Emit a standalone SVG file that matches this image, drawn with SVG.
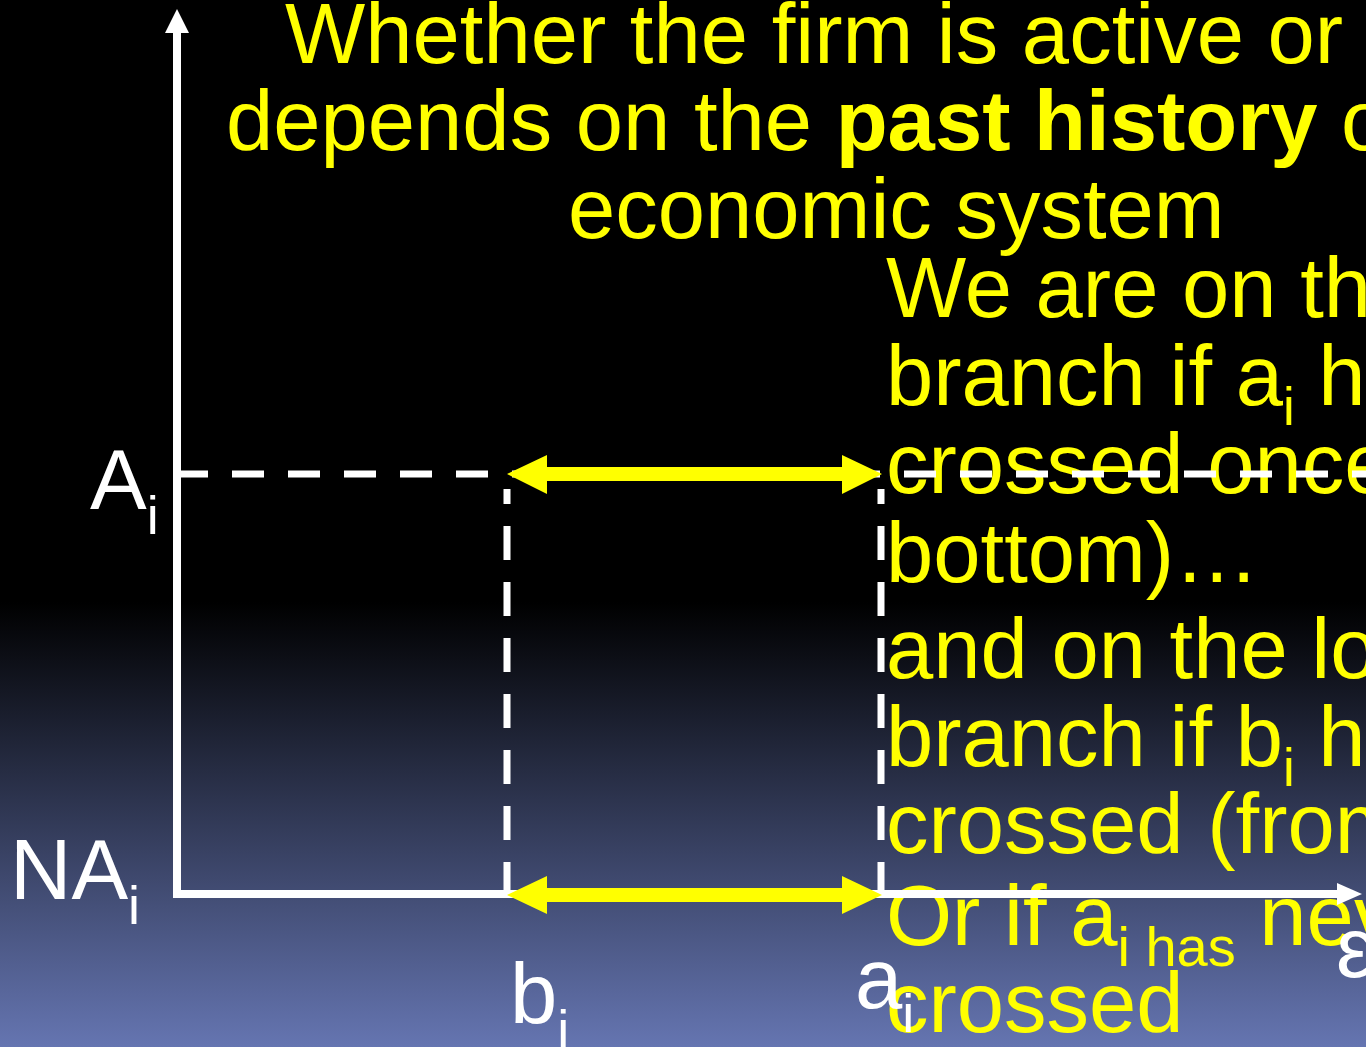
<svg xmlns="http://www.w3.org/2000/svg" width="1366" height="1047" viewBox="0 0 1366 1047">
<defs>
<linearGradient id="bg" x1="0" y1="0" x2="0" y2="1047" gradientUnits="userSpaceOnUse">
<stop offset="0" stop-color="#000"/>
<stop offset="0.575" stop-color="#000"/>
<stop offset="1" stop-color="#6575b1"/>
</linearGradient>
<style>
.t{font-family:"Liberation Sans",Arial,sans-serif;font-size:85px;fill:#ffff00}
.w{font-family:"Liberation Sans",Arial,sans-serif;font-size:85px;fill:#fff}
.axis{stroke:#fff;stroke-width:8;fill:none}
.dash{stroke:#fff;stroke-width:7;fill:none;stroke-dasharray:32 24}
.ya{fill:#ffff00}
.ah{fill:#fff}
</style>
</defs>
<rect width="1366" height="1047" fill="url(#bg)"/>

<g id="title">
<text class="t" x="285" y="63">Whether the firm is active or</text>
<text class="t" x="226" y="150">depends on the <tspan font-weight="bold">past history</tspan> o</text>
<text class="t" x="568" y="238">economic system</text>
</g>

<g id="explanation">
<text class="t" x="886" y="317">We are on th</text>
<text class="t" x="886" y="405">branch if a<tspan font-size="53" dy="20">i</tspan><tspan dy="-20"> ha</tspan></text>
<text class="t" x="886" y="493">crossed once</text>
<text class="t" x="886" y="582">bottom)…</text>
<text class="t" x="886" y="678">and on the lo</text>
<text class="t" x="886" y="766">branch if b<tspan font-size="53" dy="20">i</tspan><tspan dy="-20"> h</tspan></text>
<text class="t" x="886" y="853">crossed (from</text>
<text class="t" x="886" y="945">Or if a<tspan font-size="56" dy="21">i has</tspan><tspan dy="-21"> nev</tspan></text>
<text class="t" x="886" y="1032">crossed</text>
</g>

<g id="connectors">
<line class="dash" x1="176" y1="474" x2="1366" y2="474"/>
<line class="dash" x1="507" y1="489" x2="507" y2="894" style="stroke-dasharray:34 22;stroke-dashoffset:19"/>
<line class="dash" x1="881" y1="489" x2="881" y2="894" style="stroke-dasharray:34 22;stroke-dashoffset:19"/>
<polyline class="axis" points="177,30 177,894 1340,894"/>
<polygon class="ah" points="177,9 165,33 189,33"/>
<polygon class="ah" points="1362,894 1337,883 1337,905"/>
<polygon class="ya" points="507,474 547,455 547,467 842,467 842,455 882,474 842,494 842,481 547,481 547,494"/>
<polygon class="ya" points="507,895 547,876 547,888 842,888 842,876 882,895 842,914 842,902 547,902 547,914"/>
</g>

<g id="label-Ai">
<text class="w" x="90" y="509">A<tspan font-size="54" dy="25">i</tspan></text>
</g>
<g id="label-NAi">
<text class="w" x="10" y="899">NA<tspan font-size="54" dy="25">i</tspan></text>
</g>
<g id="label-bi">
<text class="w" x="510" y="1023">b<tspan font-size="54" dy="25">i</tspan></text>
</g>
<g id="label-ai">
<text class="w" x="855" y="1008">a<tspan font-size="54" dy="24">i</tspan></text>
</g>
<g id="label-eps">
<text class="w" x="1336" y="977">ε</text>
</g>
</svg>
